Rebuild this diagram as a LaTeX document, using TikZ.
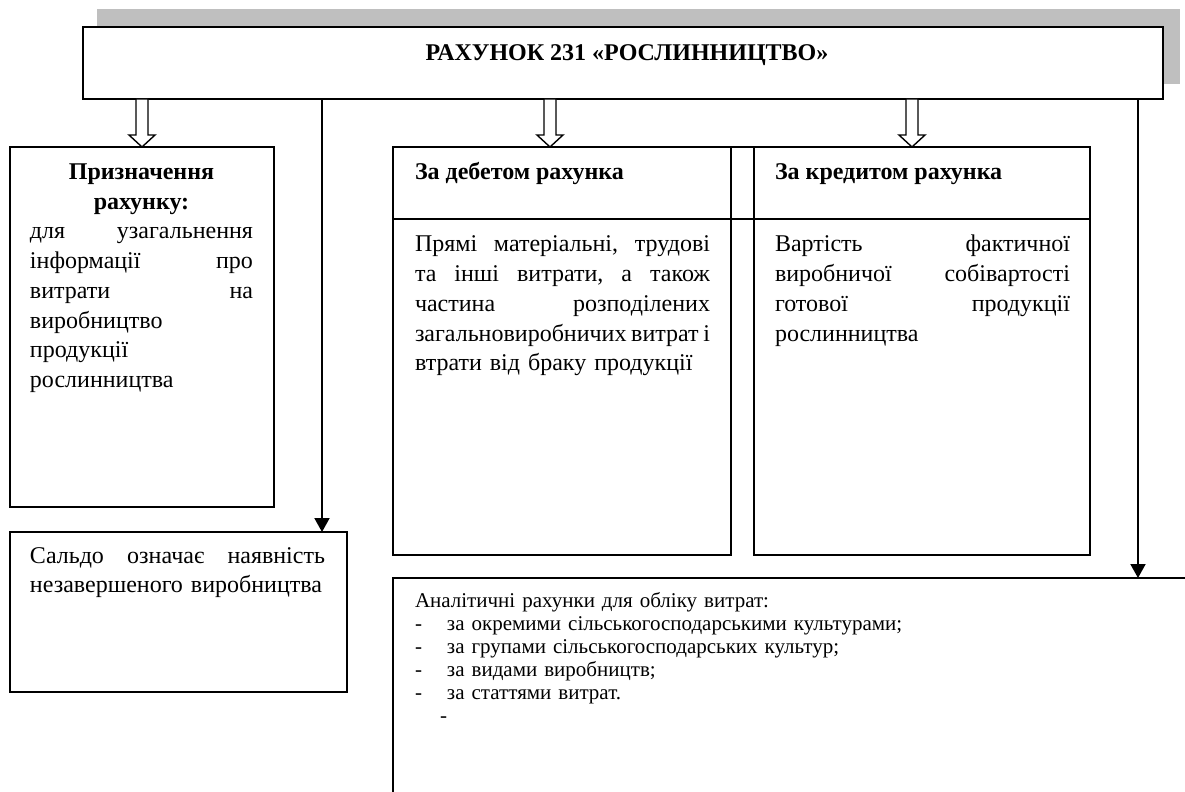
\documentclass[tikz,border=0pt]{standalone}
\usepackage{fontspec}
\setmainfont{Liberation Serif}
\usetikzlibrary{arrows.meta,calc}
\tikzset{
  frame/.style={draw, line width=0.8pt, inner sep=0pt, outer sep=0pt, anchor=north west},
  body/.style={inner sep=0pt, outer sep=0pt, anchor=base west, align=left, font=\fontsize{12}{14.85}\selectfont},
  head/.style={body, font=\fontsize{12}{14.85}\selectfont\bfseries},
  listtext/.style={body, font=\fontsize{10.5}{11.5}\selectfont},
  solidarrow/.style={line width=1pt, -{Triangle[length=7pt,width=7.5pt]}},
  hollow/.style={draw, line width=0.7pt, fill=white, line join=miter},
  shadow/.style={fill=black!25},
}
\newcommand\hollowarrow[3]{%
  \draw[hollow] ($(#2.south -| #1)+(-6,0)$) -- ($(#3.north -| #1)+(-6,-12)$) -- ++(-7,0)
    -- (#3.north -| #1) -- ($(#3.north -| #1)+(13,-12)$) -- ++(-7,0)
    -- ($(#2.south -| #1)+(6,0)$) -- cycle;}
\begin{document}
\begin{tikzpicture}[x=0.5pt,y=-0.5pt]
\useasboundingbox (0,0) rectangle (1185,792);
% shadow and title box
\fill[shadow] (97,9) rectangle (1180,84);
\node[frame, fill=white, line width=1pt, minimum width=540pt, minimum height=36pt] (acct) at (83,27) {};
\node[head, anchor=base] (title) at (627,61) {РАХУНОК 231 «РОСЛИННИЦТВО»};
% purpose box
\node[frame, minimum width=132pt, minimum height=180pt] (purpose) at (10,147) {};
\node[head, anchor=base, text width=111.5pt, align=center] (purposehead) at (141.5,180) {Призначення\\рахунку:};
\node[body, text width=111.5pt] (purposetext) at (30,239) {для\hfill узагальнення\\
інформації\hfill про\\
витрати\hfill на\\
виробництво\\
продукції\\
рослинництва};
% saldo box
\node[frame, minimum width=168.5pt, minimum height=80pt] (saldo) at (10,532) {};
\node[body, text width=147.5pt] (saldotext) at (30,563) {Сальдо\hfill означає\hfill наявність\\
незавершеного виробництва};
% debit / credit table
\node[frame, minimum width=169pt, minimum height=204pt] (debit) at (393,147) {};
\node[frame, minimum width=168pt, minimum height=204pt] (credit) at (754,147) {};
\coordinate (divy) at (0,219);
\draw[line width=0.8pt] (debit.north east) -- (credit.north west);
\draw[line width=0.8pt] (debit.west |- divy) -- (credit.east |- divy);
\node[head] (debithead) at (415,180) {За дебетом рахунка};
\node[head] (credithead) at (775,180) {За кредитом рахунка};
\node[body, text width=147.5pt] (debittext) at (415,252) {Прямі\hfill матеріальні,\hfill трудові\\
та\hfill інші\hfill витрати,\hfill а\hfill також\\
частина\hfill розподілених\\
загальновиробничих\hfill витрат\hfill і\\
втрати від браку продукції};
\node[body, text width=147.5pt] (credittext) at (775,252) {Вартість\hfill фактичної\\
виробничої\hfill собівартості\\
готової\hfill продукції\\
рослинництва};
% analytic accounts box (open to the right and bottom)
\node[frame, minimum width=404pt, minimum height=112pt] (analytic) at (393,578) {};
\node[listtext, text width=380pt] (analytictext) at (415,607) {Аналітичні рахунки для обліку витрат:\\
\makebox[16pt][l]{-}за окремими сільськогосподарськими культурами;\\
\makebox[16pt][l]{-}за групами сільськогосподарських культур;\\
\makebox[16pt][l]{-}за видами виробництв;\\
\makebox[16pt][l]{-}за статтями витрат.\\
\hspace*{12.5pt}-};
% connectors
\coordinate (s1) at (322,0);
\coordinate (s2) at (1138,0);
\draw[solidarrow] (acct.south -| s1) -- (saldo.north -| s1);
\draw[solidarrow] (acct.south -| s2) -- (analytic.north -| s2);
\coordinate (h1) at (142,0);
\coordinate (h2) at (550,0);
\coordinate (h3) at (912,0);
\hollowarrow{h1}{acct}{purpose}
\hollowarrow{h2}{acct}{debit}
\hollowarrow{h3}{acct}{credit}
\end{tikzpicture}
\end{document}
